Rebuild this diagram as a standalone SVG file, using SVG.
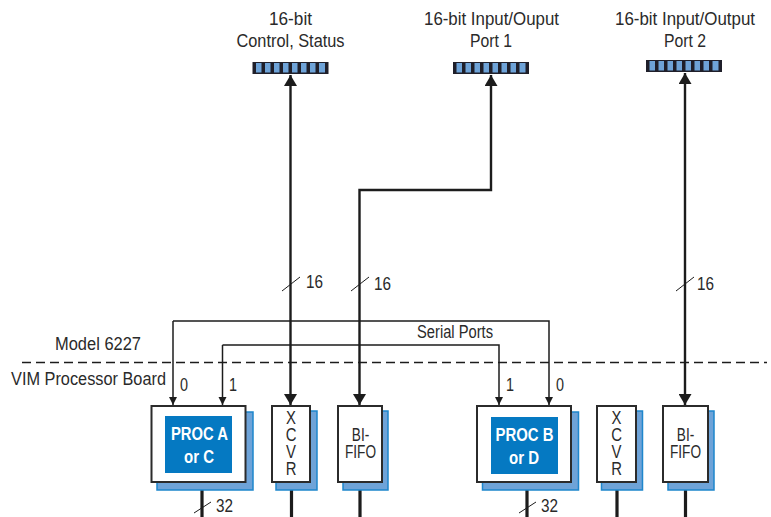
<svg xmlns="http://www.w3.org/2000/svg" width="771" height="517" viewBox="0 0 771 517">
<style>
text{font-family:"Liberation Sans",Arial,sans-serif;font-size:17.5px;fill:#2a2a2a;text-anchor:middle}
.l{text-anchor:start}
.w{fill:#fff;stroke:#2b2b2b;stroke-width:2}
.s{fill:#6ea3d8;stroke:#1e86cc;stroke-width:1.5}
.b{fill:#0579c2}
.pt{fill:#fff;font-weight:bold;font-size:18px}
.c{fill:none;stroke:#1c1c1c;stroke-width:1.5}
.h{fill:none;stroke:#1c1c1c;stroke-width:2.4}
.v{fill:none;stroke:#1c1c1c;stroke-width:3.2}
.t{fill:none;stroke:#1c1c1c;stroke-width:1}
.bar{fill:#1f1f2a}
.bc{fill:#6ea3d8}
</style>
<defs>
<marker id="big" markerUnits="userSpaceOnUse" markerWidth="12" markerHeight="13" refX="11" refY="6.500" orient="auto-start-reverse"><path d="M0 0L11 6.500L0 13z" fill="#1c1c1c"/></marker>
<marker id="sm" markerUnits="userSpaceOnUse" markerWidth="9" markerHeight="9" refX="8" refY="4" orient="auto"><path d="M0 0L8 4L0 8z" fill="#1c1c1c"/></marker>
<g id="cells"><rect class="bar" width="76" height="12"/><path class="bc" d="M3.500 1h5.500v9.500H3.500zM12.500 1h5.500v9.500h-5.500zM21.500 1h5.500v9.500h-5.500zM30.500 1h5.500v9.500h-5.500zM39.500 1h5.500v9.500h-5.500zM48.500 1h5.500v9.500h-5.500zM57.500 1h5.500v9.500h-5.500zM66.500 1h6v9.500h-6z"/></g>
</defs>

<g id="connectors">
<path class="h" d="M290.500 75V405" marker-start="url(#big)" marker-end="url(#big)"/>
<path class="h" d="M491 75V190H359.500V405" marker-start="url(#big)" marker-end="url(#big)"/>
<path class="h" d="M685 73V405" marker-start="url(#big)" marker-end="url(#big)"/>
<path class="c" d="M173 321H549V405" marker-end="url(#sm)"/>
<path class="c" d="M173 321V405" marker-end="url(#sm)"/>
<path class="c" d="M222.500 345H499V405" marker-end="url(#sm)"/>
<path class="c" d="M222.500 345V405" marker-end="url(#sm)"/>
<path d="M22 362.500H767" fill="none" stroke="#1c1c1c" stroke-width="1.500" stroke-dasharray="9 5"/>
<path class="v" d="M202 489V517M291.500 489V517M360 489V517M527 489V517M617 489V517M685.500 489V517"/>
<path class="t" d="M282 291L300 277M351 291L369 277M676 291L694 277M194 513L211 502M519 513L536 502"/>
</g>

<g id="port-control"><use href="#cells" x="252.500" y="62"/><text x="290.500" y="25" textLength="43" lengthAdjust="spacingAndGlyphs">16-bit</text><text x="290.500" y="47" textLength="108" lengthAdjust="spacingAndGlyphs">Control, Status</text></g>
<g id="port-1"><use href="#cells" x="453" y="62"/><text x="491.500" y="25" textLength="135" lengthAdjust="spacingAndGlyphs">16-bit Input/Ouput</text><text x="491" y="47" textLength="42" lengthAdjust="spacingAndGlyphs">Port 1</text></g>
<g id="port-2"><use href="#cells" x="646" y="60"/><text x="685" y="25" textLength="140" lengthAdjust="spacingAndGlyphs">16-bit Input/Output</text><text x="685" y="47" textLength="42" lengthAdjust="spacingAndGlyphs">Port 2</text></g>

<g id="labels">
<text x="306" y="288" class="l" textLength="17" lengthAdjust="spacingAndGlyphs">16</text><text x="374" y="290" class="l" textLength="17" lengthAdjust="spacingAndGlyphs">16</text><text x="697" y="290" class="l" textLength="17" lengthAdjust="spacingAndGlyphs">16</text>
<text x="216" y="512" class="l" textLength="17" lengthAdjust="spacingAndGlyphs">32</text><text x="541" y="512" class="l" textLength="17" lengthAdjust="spacingAndGlyphs">32</text>
<text x="455" y="338" textLength="76" lengthAdjust="spacingAndGlyphs">Serial Ports</text>
<text x="55" y="350" class="l" textLength="86" lengthAdjust="spacingAndGlyphs">Model 6227</text>
<text x="11" y="385" class="l" textLength="155" lengthAdjust="spacingAndGlyphs">VIM Processor Board</text>
<text x="184" y="391" textLength="8" lengthAdjust="spacingAndGlyphs">0</text><text x="233" y="391" textLength="8" lengthAdjust="spacingAndGlyphs">1</text><text x="510" y="391" textLength="8" lengthAdjust="spacingAndGlyphs">1</text><text x="560" y="391" textLength="8" lengthAdjust="spacingAndGlyphs">0</text>
</g>

<g id="proc-a"><rect class="s" x="157" y="412" width="96" height="78"/><rect class="w" x="151.500" y="406" width="94" height="76"/><rect class="b" x="165" y="416" width="67" height="57"/><text class="pt" x="199.500" y="440" textLength="57" lengthAdjust="spacingAndGlyphs">PROC A</text><text class="pt" x="199" y="463" textLength="30" lengthAdjust="spacingAndGlyphs">or C</text></g>
<g id="xcvr-a"><rect class="s" x="276" y="411" width="41" height="79"/><rect class="w" x="272" y="406" width="38" height="76"/><text transform="translate(291 0) scale(.85 1)" y="424"><tspan x="0">X</tspan><tspan x="0" dy="17.500">C</tspan><tspan x="0" dy="17">V</tspan><tspan x="0" dy="17">R</tspan></text></g>
<g id="fifo-a"><rect class="s" x="343" y="411" width="45" height="79"/><rect class="w" x="338" y="406" width="44" height="76"/><text transform="translate(360.500 0) scale(.78 1)" y="441"><tspan x="0">BI-</tspan><tspan x="0" dy="17">FIFO</tspan></text></g>
<g id="proc-b"><rect class="s" x="482.500" y="412" width="96" height="78"/><rect class="w" x="477" y="406" width="94" height="76"/><rect class="b" x="491" y="417" width="67" height="57"/><text class="pt" x="524.500" y="441" textLength="58" lengthAdjust="spacingAndGlyphs">PROC B</text><text class="pt" x="524" y="464" textLength="30" lengthAdjust="spacingAndGlyphs">or D</text></g>
<g id="xcvr-b"><rect class="s" x="601.500" y="411" width="41" height="79"/><rect class="w" x="597" y="406" width="39" height="76"/><text transform="translate(616.500 0) scale(.85 1)" y="424"><tspan x="0">X</tspan><tspan x="0" dy="17.500">C</tspan><tspan x="0" dy="17">V</tspan><tspan x="0" dy="17">R</tspan></text></g>
<g id="fifo-b"><rect class="s" x="668" y="411" width="46" height="79"/><rect class="w" x="663" y="406" width="45" height="76"/><text transform="translate(685.500 0) scale(.78 1)" y="441"><tspan x="0">BI-</tspan><tspan x="0" dy="17">FIFO</tspan></text></g>
</svg>
